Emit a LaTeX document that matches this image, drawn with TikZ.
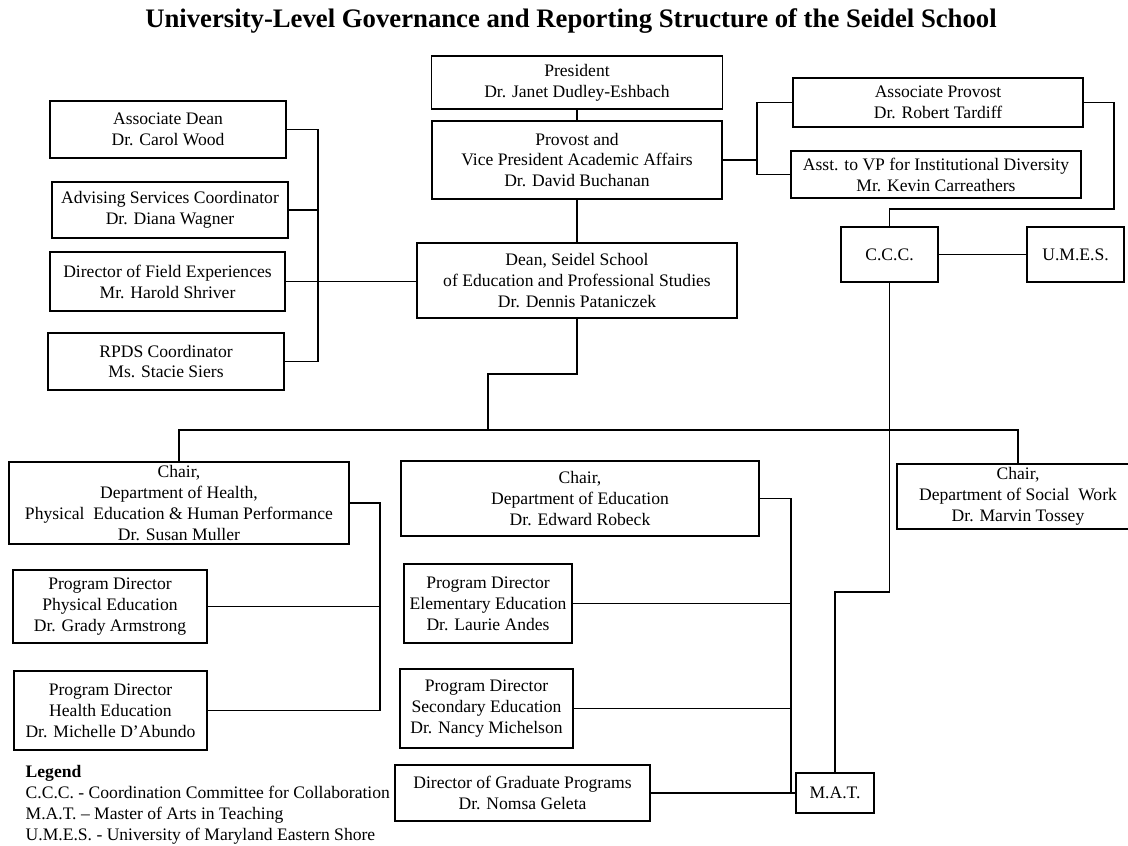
\documentclass[tikz,border=0pt]{standalone}
\usepackage{fontspec}
\setmainfont{Liberation Serif}

\begin{document}
\begin{tikzpicture}[
    x = 0.025cm, y = -0.025cm,
    line width = 1pt,
    every node/.style = {font = \fontsize{12.5}{14.9}\selectfont, align = center, inner sep = 0pt},
    unit/.style 2 args = {draw, minimum width = #1*0.025cm, minimum height = #2*0.025cm}]

\useasboundingbox (0,0) rectangle (1128,846);

\node[font = \fontsize{19}{22}\selectfont\bfseries] (title) at (571,21)
    {University-Level Governance and Reporting Structure of the Seidel School};

\node[unit = {291}{53}] (pres) at (577,82.5) {President\\Dr. Janet Dudley-Eshbach};
\node[unit = {290}{78}] (prov) at (577,160) {Provost and\\Vice President Academic Affairs\\Dr. David Buchanan};
\node[unit = {320}{75}] (dean) at (577,280.5) {Dean, Seidel School\\of Education and Professional Studies\\Dr. Dennis Pataniczek};
\node[unit = {290}{49}] (aprov) at (938,102.5) {Associate Provost\\Dr. Robert Tardiff};
\node[unit = {290}{47}] (asst) at (936,174.5) {Asst. to VP for Institutional Diversity\\Mr. Kevin Carreathers};
\node[unit = {97}{55}] (ccc) at (889.5,254.5) {C.C.C.};
\node[unit = {97}{55}] (umes) at (1075.5,254.5) {U.M.E.S.};

\node[unit = {236}{57}] (adean) at (168,129.5) {Associate Dean\\Dr. Carol Wood};
\node[unit = {236}{56}] (advis) at (170,210) {Advising Services Coordinator\\Dr. Diana Wagner};
\node[unit = {235}{59}] (field) at (167.5,281.5) {Director of Field Experiences\\Mr. Harold Shriver};
\node[unit = {236}{57}] (rpds) at (166,361.5) {RPDS Coordinator\\Ms. Stacie Siers};

\node[unit = {340}{82}] (hpe) at (179,503) {Chair,\\Department of Health,\\Physical\ \ Education \& Human Performance\\Dr. Susan Muller};
\node[unit = {194}{73}] (phys) at (110,606.5) {Program Director\\Physical Education\\Dr. Grady Armstrong};
\node[unit = {193}{79}] (hled) at (110.5,710.5) {Program Director\\Health Education\\Dr. Michelle D’Abundo};

\node[unit = {358}{75}] (cedu) at (580,498.5) {Chair,\\Department of Education\\Dr. Edward Robeck};
\node[unit = {168}{79}] (elem) at (488,603.5) {Program Director\\Elementary Education\\Dr. Laurie Andes};
\node[unit = {173}{79}] (sec) at (486.5,708.5) {Program Director\\Secondary Education\\Dr. Nancy Michelson};
\node[unit = {255}{56}] (grad) at (522.5,793) {Director of Graduate Programs\\Dr. Nomsa Geleta};
\node[unit = {78}{40}] (mat) at (835,793) {M.A.T.};

\node[unit = {242}{65}] (sw) at (1018,496.5) {Chair,\\Department of Social\ \ Work\\Dr. Marvin Tossey};

\node[anchor = west, align = left] (legend) at (25,805)
    {\textbf{Legend}\\C.C.C. - Coordination Committee for Collaboration\\M.A.T. – Master of Arts in Teaching\\U.M.E.S. - University of Maryland Eastern Shore};

\coordinate (sbus) at (318,0);
\coordinate (pbus) at (757,0);
\coordinate (rbus) at (1114,209);
\coordinate (mjog) at (835,592);
\coordinate (jog) at (488,374);
\coordinate (hbus) at (0,430);
\coordinate (hrail) at (380,0);
\coordinate (erail) at (791,0);

\draw (pres.south) -- (prov.north)
      (prov.south) -- (dean.north);
\draw (prov.east) -- (prov.east -| pbus)
      (aprov.west) -- (aprov.west -| pbus) -- (asst.west -| pbus) -- (asst.west);
\draw (aprov.east) -| (rbus) -| (ccc.north);
\draw (ccc) -- (umes);
\draw (ccc.south) |- (mjog) -- (mat.north);
\draw (adean.east) -- (adean.east -| sbus) -- (rpds.east -| sbus) -- (rpds.east)
      (advis.east) -- (advis.east -| sbus)
      (field.east) -- (field.east -| dean.west);
\draw (dean.south) |- (jog) -- (jog |- hbus);
\draw (hpe.north) |- (sw.north |- hbus) -- (sw.north);
\draw (hpe.east) -- (hpe.east -| hrail) -- (hled.east -| hrail) -- (hled.east)
      (phys.east) -- (phys.east -| hrail);
\draw (cedu.east) -- (cedu.east -| erail) -- (grad.east -| erail)
      (elem.east) -- (elem.east -| erail)
      (sec.east) -- (sec.east -| erail)
      (grad.east) -- (mat.west);
\end{tikzpicture}
\end{document}
